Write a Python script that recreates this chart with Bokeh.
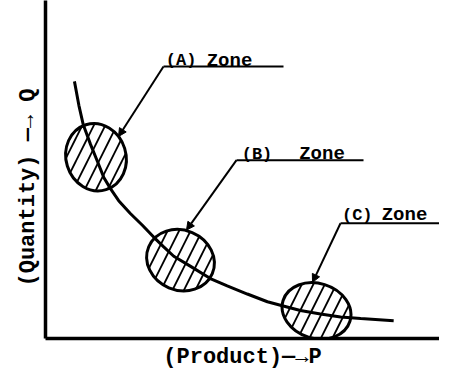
from bokeh.plotting import figure
from bokeh.models import Range1d, FixedTicker, Arrow, NormalHead, ColumnDataSource, Title
from bokeh.embed import file_html
from bokeh.resources import INLINE
from bokeh.core.properties import value

# Curve Q (quantity) against P (product)
curve_p = [0.72, 0.83, 0.94, 1.12, 1.29, 1.45, 1.62, 1.82, 2.11, 2.41, 2.69,
           2.94, 3.19, 3.61, 4.10, 4.52, 5.02, 5.52, 5.89, 6.34, 6.84, 7.34,
           7.84, 8.66]
curve_q = [7.63, 6.92, 6.34, 5.76, 5.26, 4.78, 4.44, 4.09, 3.71, 3.36, 3.01,
           2.72, 2.44, 2.14, 1.78, 1.56, 1.32, 1.09, 0.97, 0.83, 0.73, 0.64,
           0.59, 0.53]

# Zones
zone_names = ["(A)", "(B)", "(C)"]
zone_word = ["Zone", "Zone", "Zone"]
zone_p = [1.256, 3.358, 6.741]
zone_q = [5.380, 2.325, 0.819]
zone_w = [60, 69, 70]
zone_h = [68, 60, 55]
zone_angle = [0.3, -0.4, -0.3]

# Leader lines: arrow tip on zone, elbow, end of underline
tip_p = [1.816, 3.507, 6.642]
tip_q = [5.994, 3.216, 1.667]
elbow_p = [2.935, 4.751, 7.338]
elbow_q = [8.070, 5.292, 3.421]
under_end_p = [5.920, 7.910, 10.2]

# Zone label positions
name_p = [3.371, 5.261, 7.754]
word_p = [4.577, 6.878, 8.930]
label_q = [8.246, 5.468, 3.655]

x_label = "(Product)—→P"
y_label = "(Quantity) —→ Q"

p = figure(width=439, height=372, output_backend="svg", toolbar_location=None,
           x_range=Range1d(0, 9.80), y_range=Range1d(0, 10.03),
           min_border_left=45, min_border_bottom=32, min_border_top=0,
           min_border_right=0)
p.outline_line_color = None
p.grid.visible = False
p.background_fill_color = "white"

for ax in (p.xaxis, p.yaxis):
    ax.ticker = FixedTicker(ticks=[])
    ax.major_tick_out = 0
    ax.major_tick_in = 0
    ax.minor_tick_out = 0
    ax.minor_tick_in = 0
    ax.major_label_standoff = 0
    ax.axis_line_width = 3.5
    ax.axis_line_color = "black"
    ax.axis_label_text_font = "Liberation Mono"
    ax.axis_label_text_font_style = "bold"
    ax.axis_label_text_font_size = "22px"
    ax.axis_label_text_color = "black"

p.xaxis.axis_label = x_label
p.xaxis.axis_label_standoff = 6

# y-axis title: sits below the axis centre in the original, so use a side title
p.add_layout(Title(text=y_label, align="left", offset=52, standoff=9,
                   text_font="Liberation Mono", text_font_style="bold",
                   text_font_size="22px", text_color="black"), "left")

zones = ColumnDataSource(dict(p=zone_p, q=zone_q, w=zone_w, h=zone_h, a=zone_angle))
p.ellipse(x="p", y="q", width="w", height="h", angle="a", source=zones,
          width_units="screen", height_units="screen",
          fill_alpha=0, line_color="black", line_width=3,
          hatch_pattern="/", hatch_color="black", hatch_scale=23, hatch_weight=1.8)

p.line(curve_p, curve_q, line_color="black", line_width=3)

# underlines
p.segment(x0=elbow_p, y0=elbow_q, x1=under_end_p, y1=elbow_q,
          line_color="black", line_width=2)
# leader arrows
for i in range(3):
    p.add_layout(Arrow(end=NormalHead(size=8, fill_color="black", line_color="black"),
                       x_start=elbow_p[i], y_start=elbow_q[i],
                       x_end=tip_p[i], y_end=tip_q[i],
                       line_color="black", line_width=2))

p.text(x=name_p, y=label_q, text=zone_names, text_font=value("Liberation Mono"),
       text_font_style="bold", text_font_size="17px", text_align="center",
       text_baseline="alphabetic", text_color="black")
p.text(x=word_p, y=label_q, text=zone_word, text_font=value("Liberation Mono"),
       text_font_style="bold", text_font_size="19px", text_align="center",
       text_baseline="alphabetic", text_color="black")

open("out.html", "w").write(file_html(p, INLINE))
